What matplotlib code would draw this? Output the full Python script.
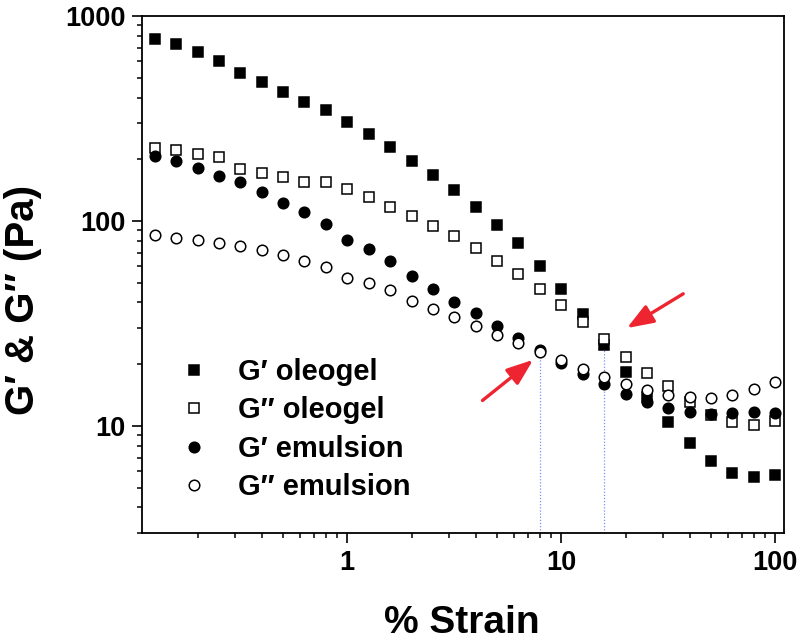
import matplotlib
matplotlib.use("Agg")
import matplotlib.pyplot as plt
from matplotlib.ticker import LogLocator, FixedLocator, FixedFormatter, NullFormatter

plt.rcParams['font.family'] = ['Liberation Sans', 'DejaVu Sans']
plt.rcParams['font.weight'] = 'bold'

# ---- data ----
strain = [0.126, 0.158, 0.2, 0.251, 0.316, 0.398, 0.501, 0.631, 0.794, 1.0,
          1.26, 1.58, 2.0, 2.51, 3.16, 3.98, 5.01, 6.31, 7.94, 10.0,
          12.6, 15.8, 20.0, 25.1, 31.6, 39.8, 50.1, 63.1, 79.4, 100.0]
g1_oleogel = [773, 728, 665, 605, 528, 475, 426, 380, 347, 303,
              266, 230, 197, 168, 141, 117, 95.5, 77.8, 60.5, 46.5,
              35.1, 24.9, 18.4, 13.8, 10.5, 8.23, 6.70, 5.88, 5.62, 5.77]
g2_oleogel = [226, 222, 213, 205, 180, 171, 163, 155, 154, 143,
              131, 117.5, 106, 94.8, 84.2, 74.1, 64, 55.1, 46.6, 38.9,
              32.1, 26.5, 21.6, 18.1, 15.6, 13.1, 11.3, 10.4, 10.1, 10.6]
g1_emulsion = [208, 197, 181, 166, 154, 138, 123, 110, 96.4, 80.8,
               73.3, 63.6, 54.1, 46.4, 40.4, 35.5, 30.8, 26.9, 23.5, 20.2,
               17.9, 16.0, 14.3, 13.0, 12.2, 11.7, 11.4, 11.5, 11.7, 11.6]
g2_emulsion = [85.1, 82.9, 81.1, 78.1, 75.8, 72.4, 68.5, 63.8, 59.7, 52.9,
               50.0, 45.9, 40.7, 37.2, 34.0, 30.8, 27.8, 25.3, 23.0, 21.0,
               19.0, 17.4, 16.0, 14.9, 14.1, 13.8, 13.6, 14.2, 15.1, 16.3]
series_labels = ["G\u2032 oleogel", "G\u2033 oleogel", "G\u2032 emulsion", "G\u2033 emulsion"]

crossover_x = [7.94, 15.8]
crossover_y = [23.0, 25.0]

arrow_tails = [(4.29, 13.3), (37.2, 44.1)]
arrow_heads = [(7.40, 21.0), (20.3, 30.0)]

x_ticks = [1, 10, 100]
x_ticklabels = ["1", "10", "100"]
y_ticks = [10, 100, 1000]
y_ticklabels = ["10", "100", "1000"]

# ---- figure ----
W, H = 802, 640
fig = plt.figure(figsize=(W / 100, H / 100), dpi=100)
L, R, T, B = 142, 784, 16, 533
ax = fig.add_axes([L / W, 1 - B / H, (R - L) / W, (B - T) / H])
ax.set_xscale('log')
ax.set_yscale('log')
ax.set_xlim(0.11, 110)
ax.set_ylim(3, 1000)

ms = 7.6
mew = 1.1
ax.plot(strain, g1_oleogel, ls='none', marker='s', ms=ms, mfc='black', mec='black', mew=mew,
        label=series_labels[0], zorder=3)
ax.plot(strain, g2_oleogel, ls='none', marker='s', ms=ms, mfc='white', mec='black', mew=mew,
        label=series_labels[1], zorder=4)
ax.plot(strain, g1_emulsion, ls='none', marker='o', ms=ms, mfc='black', mec='black', mew=mew,
        label=series_labels[2], zorder=5)
ax.plot(strain, g2_emulsion, ls='none', marker='o', ms=ms, mfc='white', mec='black', mew=mew,
        label=series_labels[3], zorder=6)

# crossover dotted guide lines
for cx, cy in zip(crossover_x, crossover_y):
    ax.plot([cx, cx], [3, cy], ls=(0, (1, 1.5)), color='#7f8cff', lw=0.9, zorder=2)

# red arrows
for (tx, ty), (hx, hy) in zip(arrow_tails, arrow_heads):
    ax.annotate('', xy=(hx, hy), xytext=(tx, ty),
                arrowprops=dict(arrowstyle='-|>,head_length=0.8,head_width=0.3',
                                color='#ee2430', lw=2.4, shrinkA=0, shrinkB=0,
                                mutation_scale=20),
                zorder=7)

# axes styling
for side in ['left', 'bottom', 'right', 'top']:
    ax.spines[side].set_linewidth(1.3)
ax.tick_params(which='major', direction='out', length=7, width=1.2, labelsize=19.5, pad=5,
               top=False, right=False)
ax.tick_params(which='minor', direction='out', length=3.8, width=1.1, top=False, right=False)
ax.xaxis.set_major_locator(FixedLocator(x_ticks))
ax.xaxis.set_major_formatter(FixedFormatter(x_ticklabels))
ax.yaxis.set_major_locator(FixedLocator(y_ticks))
ax.yaxis.set_major_formatter(FixedFormatter(y_ticklabels))
ax.xaxis.set_minor_locator(LogLocator(base=10, subs=range(2, 10), numticks=20))
ax.yaxis.set_minor_locator(LogLocator(base=10, subs=range(2, 10), numticks=20))
ax.xaxis.set_minor_formatter(NullFormatter())
ax.yaxis.set_minor_formatter(NullFormatter())
for lab in ax.get_xticklabels() + ax.get_yticklabels():
    lab.set_fontweight('bold')

# axis labels placed as in the reference
fig.text(462 / W, 1 - 633 / H, "% Strain", ha='center', va='baseline',
         fontsize=28, fontweight='bold')
fig.text(23 / W, 1 - 300 / H, "G\u2032 & G\u2033 (Pa)", ha='center', va='center',
         rotation=90, fontsize=29, fontweight='bold')

# legend
fs_leg = 21
leg = ax.legend(loc='center left', bbox_to_anchor=(179.4 / W, 1 - 429.5 / H),
                bbox_transform=fig.transFigure, frameon=False, fontsize=fs_leg,
                handlelength=1.0, handletextpad=1.0, labelspacing=0.36,
                borderpad=0, borderaxespad=0, numpoints=1)
for t in leg.get_texts():
    t.set_fontweight('bold')

fig.savefig("out.png", dpi=100)
